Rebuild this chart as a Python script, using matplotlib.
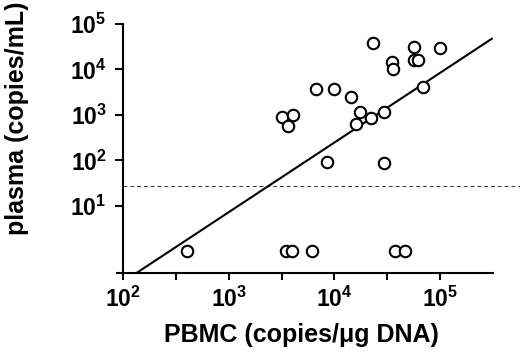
import numpy as np
import matplotlib
matplotlib.use("Agg")
import matplotlib.pyplot as plt

# ---- data ----
pbmc = [404, 3206, 4074, 3606, 6637, 9954, 14420, 17420, 15980, 22030,
        23300, 29400, 8550, 29400, 34800, 36100, 56600, 56600, 62200, 99800,
        68400, 3475, 3936, 6170, 37200, 46600]
plasma = [1, 890, 1000, 573, 3672, 3672, 2524, 1183, 634, 845,
          38800, 1183, 94, 87, 14800, 10100, 31700, 16200, 16200, 29200,
          4064, 1, 1, 1, 1, 1]
fit_slope = 1.53          # log-log regression
fit_intercept = -3.724
fit_xrange = [10 ** 2.127, 10 ** 5.49]
detection_limit = 27.5
xtick_vals = [1e2, 1e3, 1e4, 1e5]
xtick_labels = [r"$\mathbf{10^{2}}$", r"$\mathbf{10^{3}}$", r"$\mathbf{10^{4}}$", r"$\mathbf{10^{5}}$"]
xminor_vals = [10 ** 2.5, 10 ** 3.5, 10 ** 4.5]
ytick_vals = [1e1, 1e2, 1e3, 1e4, 1e5]
ytick_labels = [r"$\mathbf{10^{1}}$", r"$\mathbf{10^{2}}$", r"$\mathbf{10^{3}}$", r"$\mathbf{10^{4}}$", r"$\mathbf{10^{5}}$"]
xlabel = "PBMC (copies/\u03bcg DNA)"
ylabel = "plasma (copies/mL)"

plt.rcParams["font.family"] = ["Liberation Sans", "DejaVu Sans"]
plt.rcParams["mathtext.fontset"] = "custom"
plt.rcParams["mathtext.rm"] = "Liberation Sans"
plt.rcParams["mathtext.bf"] = "Liberation Sans:bold"

W, H = 520, 352
fig = plt.figure(figsize=(W / 100, H / 100), dpi=100)
x0, x1 = 123.3, 520.0
y0, y1 = 273.0, 24.0
ax = fig.add_axes([x0 / W, 1 - y0 / H, (x1 - x0) / W, (y0 - y1) / H])
ax.set_xscale("log")
ax.set_yscale("log")
ax.set_xlim(1e2, 10 ** 5.757)
ax.set_ylim(10 ** -0.473, 1e5)

for s in ["top", "right"]:
    ax.spines[s].set_visible(False)
ax.spines["left"].set_linewidth(1.5)
ax.spines["bottom"].set_linewidth(1.5)
ax.spines["bottom"].set_bounds(10 ** 1.94, 10 ** 5.5)

ax.scatter(pbmc, plasma, s=68, facecolors="white", edgecolors="black",
           linewidths=1.5, zorder=3, clip_on=False)

fx = np.array(fit_xrange)
fy = 10 ** (fit_slope * np.log10(fx) + fit_intercept)
ax.plot(fx, fy, color="black", lw=1.5, zorder=2, clip_on=False)

ax.axhline(detection_limit, color="#333333", lw=0.7, ls=(0, (4, 3)), zorder=1)

ax.set_xticks(xtick_vals)
ax.set_xticklabels(xtick_labels, fontsize=16.5)
ax.set_xticks(xminor_vals, minor=True)
ax.set_yticks(ytick_vals)
ax.set_yticklabels(ytick_labels, fontsize=16.5)
ax.yaxis.set_minor_locator(matplotlib.ticker.NullLocator())
ax.tick_params(axis="x", which="both", direction="out", length=5, width=1.5, pad=5)
ax.tick_params(axis="y", which="both", direction="out", length=6, width=1.5, pad=6)

fig.text(301 / W, 1 - 335 / H, xlabel, ha="center", va="center",
         fontsize=18, fontweight="bold")
fig.text(17 / W, 1 - 118 / H, ylabel, ha="center", va="center",
         rotation=90, fontsize=18, fontweight="bold")

fig.savefig("out.png", dpi=100)
